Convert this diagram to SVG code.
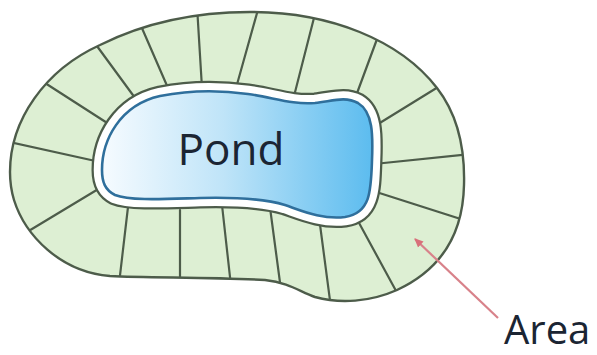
<svg xmlns="http://www.w3.org/2000/svg" width="597" height="355" viewBox="0 0 597 355">
<style>
.div{stroke:#4d5c4a;stroke-width:2.2;fill:none;stroke-linecap:round}
.lbl{font-family:"Open Sans","Liberation Sans",sans-serif;fill:#1b2533}
</style>
<defs>
<linearGradient id="water" x1="0" y1="0" x2="1" y2="0">
<stop offset="0" stop-color="#f6fbff"/>
<stop offset="0.45" stop-color="#bfe4f8"/>
<stop offset="1" stop-color="#5cbcef"/>
</linearGradient>
<path id="outer" d="M10,172 C10,120 45,70 100,45 C140,25 190,12 250,12 C330,12 400,40 437,88 C458,115 465,150 464,185 C463,235 440,270 397,290 C370,302 340,304 315,297 C300,292 290,283 265,280 C210,277 150,278 110,276 C60,272 25,235 14,200 C11,190 10,180 10,172 Z"/>
<path id="pond" d="M102,170 C102,140 120,105 160,96 C190,90 220,90 248,94 C272,97 292,105 315,103 C333,101 345,96 358,103 C373,112 373,135 372,160 C371,190 371,213 345,217 C322,220 300,210 285,205 C265,199 240,197 200,198 C165,199 130,201 115,195 C105,190 102,182 102,170 Z"/>
<clipPath id="clipOuter"><use href="#outer"/></clipPath>
<marker id="ah" markerWidth="10" markerHeight="10" refX="8" refY="5" orient="auto" markerUnits="userSpaceOnUse">
<path d="M0,1 L9,5 L0,9 Z" fill="#d8707a"/>
</marker>
</defs>
<g id="area">
<use href="#outer" fill="#ddefd3" stroke="#4d5c4a" stroke-width="2.4"/>
<g clip-path="url(#clipOuter)">
<line class="div" x1="5" y1="141" x2="100" y2="162"/>
<line class="div" x1="45" y1="83" x2="115" y2="128"/>
<line class="div" x1="94" y1="42" x2="138" y2="102"/>
<line class="div" x1="138" y1="19" x2="168" y2="88"/>
<line class="div" x1="197" y1="6" x2="202" y2="88"/>
<line class="div" x1="259" y1="6" x2="236" y2="88"/>
<line class="div" x1="316" y1="10" x2="292" y2="104"/>
<line class="div" x1="380" y1="31" x2="353" y2="104"/>
<line class="div" x1="443" y1="84" x2="370" y2="129"/>
<line class="div" x1="470" y1="154" x2="374" y2="164"/>
<line class="div" x1="470" y1="222" x2="370" y2="190"/>
<line class="div" x1="401" y1="300" x2="352" y2="210"/>
<line class="div" x1="331" y1="308" x2="319" y2="217"/>
<line class="div" x1="281" y1="290" x2="269" y2="200"/>
<line class="div" x1="231" y1="286" x2="222" y2="205"/>
<line class="div" x1="180" y1="284" x2="180" y2="210"/>
<line class="div" x1="119" y1="284" x2="128" y2="207"/>
<line class="div" x1="22" y1="235" x2="100" y2="188"/>
</g>
</g>
<g id="pond-node">
<use href="#pond" fill="none" stroke="#4d5c4a" stroke-width="21"/>
<use href="#pond" fill="none" stroke="#ffffff" stroke-width="16.5"/>
<use href="#pond" fill="url(#water)" stroke="#2f6f9c" stroke-width="2.6"/>
<text class="lbl" x="231" y="165" font-size="44" text-anchor="middle">Pond</text>
</g>
<g id="connectors">
<line x1="498" y1="318" x2="415" y2="239" stroke="#d8828a" stroke-width="2.2" marker-end="url(#ah)"/>
</g>
<g id="area-label">
<text class="lbl" x="504" y="344" font-size="40">Area</text>
</g>
</svg>
